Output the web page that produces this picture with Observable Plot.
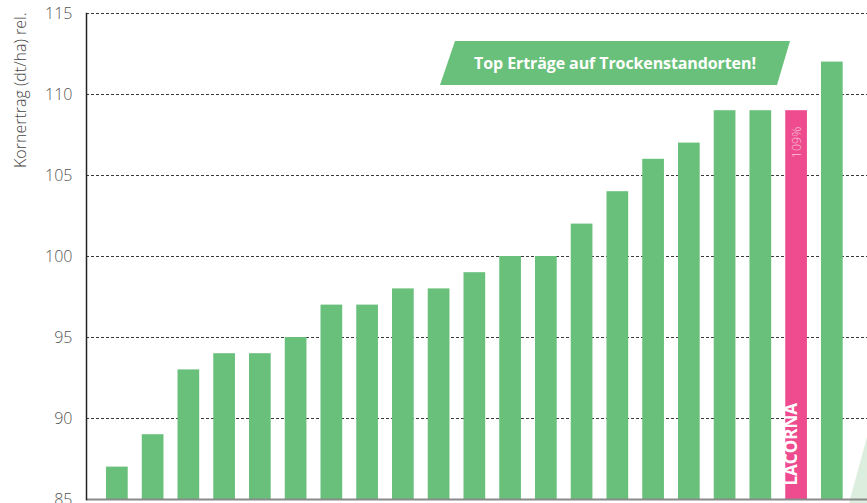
<!DOCTYPE html>
<html><head><meta charset="utf-8">
<script src="https://cdn.jsdelivr.net/npm/d3@7"></script>
<script src="https://cdn.jsdelivr.net/npm/@observablehq/plot@0.6"></script>
<style>
html,body{margin:0;padding:0;background:#fff;overflow:hidden;}
#wrap{position:relative;width:867px;height:503px;}
#wrap svg{position:absolute;left:0;top:0;}
.banner{position:absolute;left:440px;top:41px;width:350px;height:44px;background:#69c07a;clip-path:polygon(15px 0,100% 0,calc(100% - 13px) 100%,0 100%);color:#fff;font:700 16px "Open Sans",sans-serif;letter-spacing:-0.1px;display:flex;align-items:center;justify-content:center;padding-left:0;box-sizing:border-box;}
.deco{position:absolute;left:849px;top:437px;width:18px;height:66px;background:#dcefdf;clip-path:polygon(100% 0,100% 100%,0 100%);}
</style></head><body><div id="wrap"><div class="deco"></div></div>
<script>
// ---- data ----
const varieties = ["Sorte 1","Sorte 2","Sorte 3","Sorte 4","Sorte 5","Sorte 6","Sorte 7","Sorte 8","Sorte 9","Sorte 10","Sorte 11","Sorte 12","Sorte 13","Sorte 14","Sorte 15","Sorte 16","Sorte 17","Sorte 18","Sorte 19","LACORNA","Sorte 21"];
const yields = [87,89,93,94,94,95,97,97,98,98,99,100,100,102,104,106,107,109,109,109,112];
const highlight = "LACORNA";
const highlightLabel = "109%";
const yTicks = [85,90,95,100,105,110,115];
const yLabel = "Kornertrag (dt/ha) rel.";
const bannerText = "Top Erträge auf Trockenstandorten!";

const green = "#69c07a";
const pink = "#ee4c8f";

const data = varieties.map((name, i) => ({name, value: yields[i]}));
const normal = data.filter(d => d.name !== highlight);
const hl = data.filter(d => d.name === highlight);
const font = "'Open Sans', sans-serif";

const chart = Plot.plot({
  width: 867, height: 503,
  marginLeft: 86, marginRight: 0, marginTop: 13, marginBottom: 4,
  style: {background: "transparent", fontFamily: font, overflow: "visible"},
  x: {domain: varieties, paddingInner: 0.393, paddingOuter: 0.62, align: 0.4515, round: false, axis: null},
  y: {domain: [yTicks[0], yTicks[yTicks.length - 1]], axis: null},
  marks: [
    Plot.ruleY(yTicks.slice(1), {stroke: "#3a3a3a", strokeDasharray: "3,2", strokeWidth: 1}),
    Plot.barY(normal, {x: "name", y1: yTicks[0], y2: "value", fill: green}),
    Plot.barY(hl, {x: "name", y1: yTicks[0], y2: "value", fill: pink}),
    Plot.ruleY([yTicks[0]], {stroke: "#8a8a8a", strokeWidth: 2}),
    Plot.frame({anchor: "left", stroke: "#222", strokeWidth: 1.5}),
    Plot.text(yTicks, {y: d => d, text: d => String(d), frameAnchor: "left", dx: -14, textAnchor: "end", fontSize: 16, fill: "#555", fontWeight: 300}),
    Plot.text([yLabel], {frameAnchor: "top-left", rotate: -90, textAnchor: "end", dx: -72, dy: -1, fontSize: 16, fill: "#444", fontWeight: 300}),
    Plot.text(hl, {x: "name", y: "value", text: () => highlightLabel, rotate: -90, textAnchor: "end", dy: 16, fontSize: 12.5, fill: "#f9c6dc", fontWeight: 300}),
    Plot.text(hl, {x: "name", frameAnchor: "bottom", text: "name", rotate: -90, textAnchor: "start", dy: -14, fontSize: 17, fill: "#fff", fontWeight: 700})
  ]
});
const wrap = document.getElementById("wrap");
wrap.appendChild(chart);
const banner = document.createElement("div");
banner.className = "banner";
banner.textContent = bannerText;
wrap.appendChild(banner);
</script>
</body></html>
